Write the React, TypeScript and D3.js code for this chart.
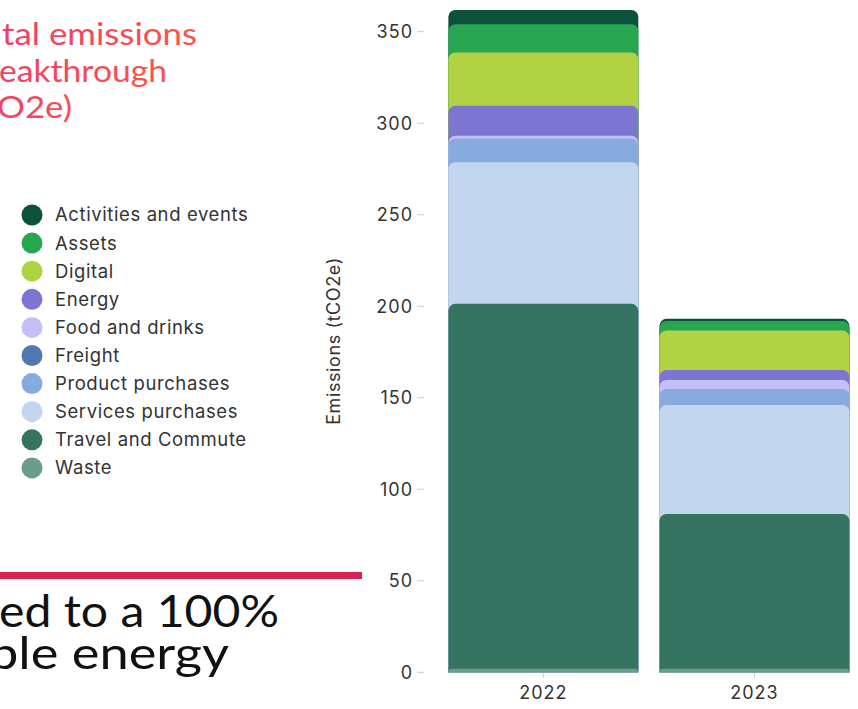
import React from "react";
import * as d3 from "d3";

const years = ["2022", "2023"];
// stacking order bottom -> top
const categories = [
  "Waste",
  "Travel and Commute",
  "Services purchases",
  "Product purchases",
  "Freight",
  "Food and drinks",
  "Energy",
  "Digital",
  "Assets",
  "Activities and events",
];
const colors = [
  "#6b9d8c",
  "#367462",
  "#c2d6f0",
  "#87abdf",
  "#5079b0",
  "#c4c0f7",
  "#7c75d1",
  "#b1d343",
  "#28a550",
  "#0c5238",
];
const values2022 = [2, 199.3, 77.4, 12.9, 0, 1.5, 16.4, 29.1, 15.5, 7.8];
const values2023 = [2, 84.5, 59.6, 8.7, 0, 4.9, 5.5, 21.5, 5.3, 1.1];
const legendOrder = [
  "Activities and events",
  "Assets",
  "Digital",
  "Energy",
  "Food and drinks",
  "Freight",
  "Product purchases",
  "Services purchases",
  "Travel and Commute",
  "Waste",
];
const yTicks = [0, 50, 100, 150, 200, 250, 300, 350];
const yLabel = "Emissions (tCO2e)";
const titleLines = ["tal emissions", "eakthrough", "O2e)"];
const bodyLines = ["ed to a 100%", "ble energy"];

const W = 858;
const H = 709;

function topRounded(x: number, y: number, w: number, h: number, r: number) {
  const rr = Math.min(r, w / 2, Math.max(h, 0));
  const p = d3.path();
  p.moveTo(x, y + h);
  p.lineTo(x, y + rr);
  p.arcTo(x, y, x + rr, y, rr);
  p.lineTo(x + w - rr, y);
  p.arcTo(x + w, y, x + w, y + rr, rr);
  p.lineTo(x + w, y + h);
  p.closePath();
  return p.toString();
}

export default function App() {
  const table = years.map((yr, i) => {
    const vals = i === 0 ? values2022 : values2023;
    const row: any = { year: yr };
    categories.forEach((c, j) => (row[c] = vals[j]));
    return row;
  });
  const stack = d3.stack<any>().keys(categories)(table);

  const x = d3
    .scaleBand<string>()
    .domain(years)
    .range([437.8, 860])
    .paddingInner(0.1)
    .paddingOuter(0.05);
  const y = d3.scaleLinear().domain([0, 350]).range([672.3, 31.7]);
  const color = d3.scaleOrdinal<string, string>().domain(categories).range(colors);

  const font = "Inter, 'Noto Sans', sans-serif";
  const base = y(0);

  // draw from top series to bottom so lower segments overlap upper ones
  const layers = [...stack].reverse();

  return (
    <svg
      width={W}
      height={H}
      style={{ position: "absolute", left: 0, top: 0, background: "#fff" }}
    >
      <defs>
        <linearGradient id="tg" x1="0" y1="0" x2="200" y2="120" gradientUnits="userSpaceOnUse">
          <stop offset="0" stopColor="#ef3b6c" />
          <stop offset="1" stopColor="#ff5a3c" />
        </linearGradient>
      </defs>

      {/* title (cropped) */}
      <g fill="url(#tg)" fontFamily="Lato, sans-serif" fontSize={30}>
        <text x={2} y={45} textLength={195} lengthAdjust="spacingAndGlyphs">
          {titleLines[0]}
        </text>
        <text x={-1} y={82} textLength={168} lengthAdjust="spacingAndGlyphs">
          {titleLines[1]}
        </text>
        <text x={-3} y={118} textLength={75} lengthAdjust="spacingAndGlyphs">
          {titleLines[2]}
        </text>
      </g>

      {/* legend */}
      <g fontFamily={font} fontSize={18.5} fill="#333" letterSpacing={0.6}>
        {legendOrder.map((c, i) => (
          <g key={c} transform={`translate(32, ${215 + i * 28.1})`}>
            <circle r={10.5} fill={color(c)} />
            <text x={23} dy="0.35em">
              {c}
            </text>
          </g>
        ))}
      </g>

      {/* red rule and body text */}
      <rect x={0} y={572} width={362} height={7} fill="#dc2155" />
      <g fontFamily="Lato, sans-serif" fontSize={44} fill="#111">
        <text x={-1} y={627} textLength={280} lengthAdjust="spacingAndGlyphs">
          {bodyLines[0]}
        </text>
        <text x={-11} y={669} textLength={240} lengthAdjust="spacingAndGlyphs">
          {bodyLines[1]}
        </text>
      </g>

      {/* y axis */}
      <g fontFamily={font} fontSize={18} fill="#333" letterSpacing={1}>
        {yTicks.map((t) => (
          <g key={t} transform={`translate(0, ${y(t)})`}>
            <line x1={417} x2={424} stroke="#ccc" strokeWidth={1} />
            <text x={413} textAnchor="end" dy="0.35em">
              {t}
            </text>
          </g>
        ))}
      </g>
      <text
        transform={`translate(340, 341) rotate(-90)`}
        textAnchor="middle"
        fontFamily={font}
        fontSize={18}
        letterSpacing={0.6}
        fill="#333"
      >
        {yLabel}
      </text>

      {/* bars */}
      <g>
        {layers.map((layer) => (
          <g key={layer.key} fill={color(layer.key)}>
            {layer.map((d: any, i: number) => {
              if (d[1] - d[0] <= 0) return null;
              const xx = x(d.data.year)!;
              const top = y(d[1]);
              return (
                <path
                  key={i}
                  d={topRounded(xx, top, x.bandwidth(), base - top, 7)}
                />
              );
            })}
          </g>
        ))}
      </g>

      {/* x axis */}
      <g fontFamily={font} fontSize={18} fill="#333" letterSpacing={1}>
        {years.map((yr) => (
          <g key={yr} transform={`translate(${x(yr)! + x.bandwidth() / 2}, 0)`}>
            <line y1={673} y2={678} stroke="#ccc" />
            <text y={699} textAnchor="middle">
              {yr}
            </text>
          </g>
        ))}
      </g>
    </svg>
  );
}
